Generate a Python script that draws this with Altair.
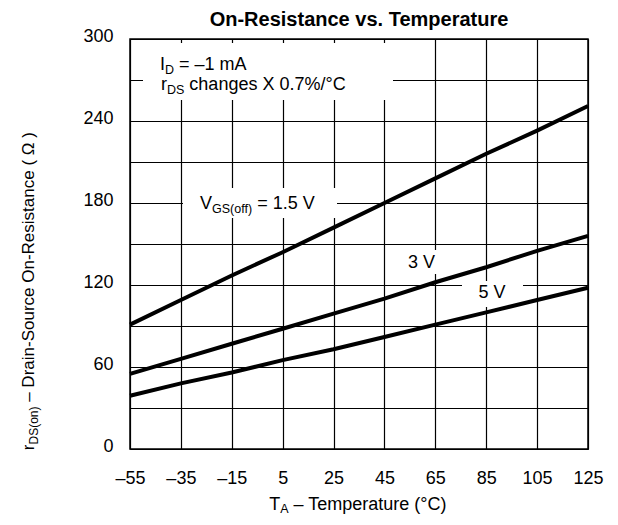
import altair as alt
import pandas as pd

# ---------------- data ----------------
temps = [-55, -35, -15, 5, 25, 45, 65, 85, 105, 125]
r_vgs_15 = [91, 109, 127, 144, 162, 180, 198, 216, 233, 251]
r_vgs_3 = [55, 66, 77, 88, 99, 110, 122, 133, 145, 156]
r_vgs_5 = [39, 48, 56, 65, 73, 82, 91, 100, 109, 118]
series_names = ["1.5 V", "3 V", "5 V"]

x_ticks = [-55, -35, -15, 5, 25, 45, 65, 85, 105, 125]
y_grid = [0, 30, 60, 90, 120, 150, 180, 210, 240, 270, 300]

title_text = "On-Resistance vs. Temperature"

# ---------------- layout ----------------
W, H = 458, 410
X0, X1 = -55, 125
Y0, Y1 = 0, 300
OX, OY = 130, 39          # page position of plot origin
FONT = "Liberation Sans"
MAIN, SUB, SUB_DY = 18, 12.5, 4
VMAIN, VSUB = 17, 12

def dx_(px):  # page px -> data x
    return X0 + (px - OX) * (X1 - X0) / W

def dy_(py):  # page px -> data y
    return Y1 - (py - OY) * (Y1 - Y0) / H

WT = {' ': 278, '0': 556, '1': 556, '2': 556, '3': 556, '4': 556, '5': 556,
      '6': 556, '7': 556, '8': 556, '9': 556, '.': 278, '%': 889, '/': 278,
      '°': 400, '(': 333, ')': 333, '=': 584, '–': 556, '-': 333, 'Ω': 768,
      'A': 667, 'C': 722, 'D': 722, 'G': 778, 'I': 278, 'O': 778, 'R': 722,
      'S': 667, 'T': 611, 'V': 667, 'X': 667,
      'a': 556, 'c': 500, 'e': 556, 'f': 278, 'g': 556, 'h': 556, 'i': 222,
      'm': 833, 'n': 556, 'o': 556, 'p': 556, 'r': 333, 's': 500, 't': 278,
      'u': 556, 'v': 500}

def tw(s, size):
    return sum(WT.get(c, 556) for c in s) / 1000.0 * size

def total_w(pieces, m=MAIN, s_=SUB):
    return sum(tw(t, s_ if s else m) for t, s in pieces)

def layout_h(pieces, x_start, baseline, main_rows, sub_rows, sub_dy=SUB_DY):
    off = 0.0
    for t, s in pieces:
        size = SUB if s else MAIN
        lead = len(t) - len(t.lstrip(' '))
        x = x_start + off + tw(' ' * lead, size)
        row = {"x": dx_(x), "y": dy_(baseline + (sub_dy if s else 0)), "t": t.strip()}
        (sub_rows if s else main_rows).append(row)
        off += tw(t, size)

def layout_v(pieces, baseline_x, y_start, main_rows, sub_rows):
    off = 0.0
    for t, s in pieces:
        size = VSUB if s else VMAIN
        lead = len(t) - len(t.lstrip(' '))
        y = y_start - off - tw(' ' * lead, size)
        row = {"x": dx_(baseline_x + (SUB_DY if s else 0)), "y": dy_(y), "t": t.strip()}
        (sub_rows if s else main_rows).append(row)
        off += tw(t, size)

main_rows, sub_rows = [], []
layout_h([("I", 0), ("D", 1), (" = –1 mA", 0)], 160, 70, main_rows, sub_rows)
layout_h([("r", 0), ("DS", 1), (" changes X 0.7%/°C", 0)], 161, 90, main_rows, sub_rows)
layout_h([("V", 0), ("GS(off)", 1), (" = 1.5 V", 0)], 200, 209, main_rows, sub_rows)
p3 = [("3 V", 0)]
layout_h(p3, 421.5 - total_w(p3) / 2, 268, main_rows, sub_rows)
p5 = [("5 V", 0)]
layout_h(p5, 492 - total_w(p5) / 2, 298, main_rows, sub_rows)
px_title = [("T", 0), ("A", 1), (" – Temperature (°C)", 0)]
layout_h(px_title, OX + W / 2 - total_w(px_title) / 2, 510, main_rows, sub_rows, sub_dy=3)

rot_main, rot_sub = [], []
py_title = [("r", 0), ("DS(on)", 1), (" – Drain-Source On-Resistance ( Ω )", 0)]
layout_v(py_title, 34, 291 + total_w(py_title, VMAIN, VSUB) / 2, rot_main, rot_sub)

boxes = pd.DataFrame([
    {"x": dx_(143), "x2": dx_(393), "y": dy_(43), "y2": dy_(100)},
    {"x": dx_(183), "x2": dx_(337), "y": dy_(188), "y2": dy_(218)},
    {"x": dx_(400), "x2": dx_(440), "y": dy_(250), "y2": dy_(274)},
    {"x": dx_(462), "x2": dx_(523), "y": dy_(281), "y2": dy_(307)},
])

rows = []
for name, vals in zip(series_names, [r_vgs_15, r_vgs_3, r_vgs_5]):
    for t, v in zip(temps, vals):
        rows.append({"T": t, "R": v, "series": name})
df = pd.DataFrame(rows)

xs = alt.Scale(domain=[X0, X1], nice=False, zero=False)
ys = alt.Scale(domain=[Y0, Y1], nice=False, zero=False)

x_axis = alt.Axis(values=x_ticks, title=None, grid=True, ticks=False, domain=False,
                  labelFlush=False, labelBaseline="alphabetic", labelPadding=34,
                  labelExpr="datum.value < 0 ? '–' + (-datum.value) : '' + datum.value")
y_axis = alt.Axis(values=y_grid, title=None, grid=True, ticks=False, domain=False,
                  labelFlush=False, labelBaseline="middle", labelPadding=17, labelOffset=-3,
                  labelExpr="datum.value % 60 == 0 ? datum.label : ''")

rects = alt.Chart(boxes).mark_rect(fill="white").encode(
    x=alt.X("x:Q", scale=xs, axis=x_axis),
    x2="x2:Q",
    y=alt.Y("y:Q", scale=ys, axis=y_axis),
    y2="y2:Q",
)

lines = alt.Chart(df).mark_line(color="black", strokeWidth=4).encode(
    x=alt.X("T:Q", scale=xs),
    y=alt.Y("R:Q", scale=ys),
    detail="series:N",
)

def text_layer(rows_, size, angle=0):
    return alt.Chart(pd.DataFrame(rows_)).mark_text(
        align="left", baseline="alphabetic", font=FONT, fontSize=size,
        color="black", angle=angle
    ).encode(x=alt.X("x:Q", scale=xs), y=alt.Y("y:Q", scale=ys), text="t:N")

t_main = text_layer(main_rows, MAIN)
t_sub = text_layer(sub_rows, SUB)
r_main = text_layer(rot_main, VMAIN, 270)
r_sub = text_layer(rot_sub, VSUB, 270)

title_df = pd.DataFrame([{"x": dx_(OX + W / 2), "y": dy_(26), "t": title_text}])
title = alt.Chart(title_df).mark_text(
    align="center", baseline="alphabetic", font=FONT, fontSize=20,
    fontWeight="bold", color="black"
).encode(x=alt.X("x:Q", scale=xs), y=alt.Y("y:Q", scale=ys), text="t:N")

chart = alt.layer(rects, lines, t_main, t_sub, r_main, r_sub, title).properties(
    width=W, height=H,
    padding={"left": 122, "top": 31, "right": 20, "bottom": 68},
    autosize=alt.AutoSizeParams(type="none"),
    background="white",
).configure_view(
    stroke="black", strokeWidth=1.5
).configure_axis(
    gridColor="black", gridOpacity=1, gridWidth=1.2,
    labelFont=FONT, labelFontSize=18, labelColor="black",
)

chart.save("out.html", embed_options={"renderer": "svg", "actions": False})
